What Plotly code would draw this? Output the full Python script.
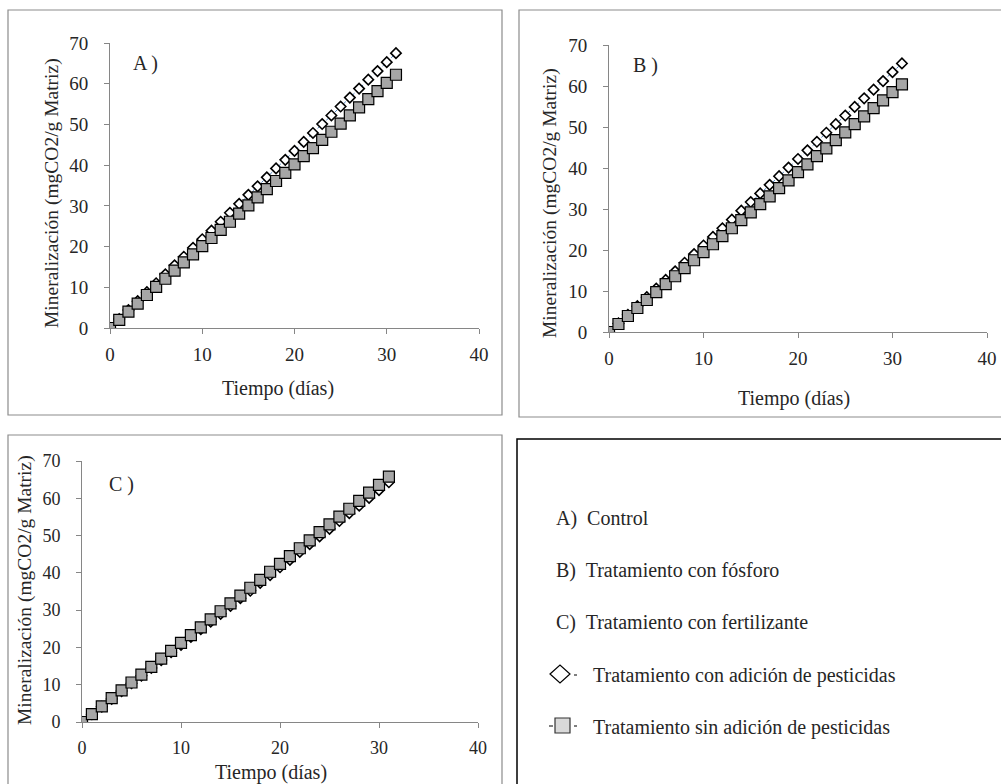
import plotly.graph_objects as go

W, H = 1001, 784

dias = list(range(32))

# Panel A (Control)
a_con = [0, 2.2, 4.4, 6.6, 8.8, 11.0, 13.2, 15.4, 17.5, 19.7, 21.8, 23.9, 26.1, 28.3, 30.5, 32.7,
         34.8, 37.0, 39.2, 41.3, 43.5, 45.7, 47.9, 50.1, 52.2, 54.4, 56.6, 58.8, 61.0, 63.1, 65.3, 67.5]
a_sin = [0, 2.0, 4.0, 6.0, 8.1, 10.1, 12.1, 14.1, 16.1, 18.1, 20.1, 22.1, 24.1, 26.1, 28.1, 30.1,
         32.1, 34.1, 36.1, 38.1, 40.2, 42.2, 44.2, 46.2, 48.2, 50.2, 52.2, 54.2, 56.2, 58.2, 60.2, 62.2]
# Panel B (fósforo)
b_con = [0, 2.1, 4.2, 6.3, 8.5, 10.6, 12.7, 14.8, 16.9, 19.0, 21.1, 23.2, 25.3, 27.4, 29.6, 31.7,
         33.8, 35.9, 38.0, 40.1, 42.2, 44.3, 46.4, 48.6, 50.7, 52.8, 54.9, 57.0, 59.1, 61.2, 63.4, 65.5]
b_sin = [0, 1.95, 3.9, 5.85, 7.8, 9.75, 11.7, 13.6, 15.6, 17.5, 19.5, 21.4, 23.4, 25.3, 27.3, 29.2,
         31.2, 33.1, 35.1, 37.0, 39.0, 40.9, 42.9, 44.8, 46.8, 48.7, 50.7, 52.6, 54.6, 56.5, 58.5, 60.4]
# Panel C (fertilizante)
c_con = [0, 2.07, 4.1, 6.2, 8.3, 10.4, 12.4, 14.5, 16.6, 18.7, 20.7, 22.8, 24.9, 26.9, 29.0, 31.1,
         33.2, 35.2, 37.3, 39.4, 41.5, 43.5, 45.6, 47.7, 49.8, 51.8, 53.9, 56.0, 58.0, 60.1, 62.2, 64.3]
c_sin = [0, 2.1, 4.2, 6.4, 8.5, 10.6, 12.7, 14.8, 17.0, 19.1, 21.2, 23.3, 25.4, 27.5, 29.7, 31.8,
         33.9, 36.0, 38.1, 40.3, 42.4, 44.5, 46.6, 48.7, 50.9, 53.0, 55.1, 57.2, 59.3, 61.5, 63.6, 65.8]

x_ticks = [0, 10, 20, 30, 40]
y_ticks = [0, 10, 20, 30, 40, 50, 60, 70]
panel_labels = ["A )", "B )", "C )"]
x_title = "Tiempo (días)"
y_title = "Mineralización (mgCO2/g Matriz)"
legend_items = ["A)  Control", "B)  Tratamiento con fósforo", "C)  Tratamiento con fertilizante"]
serie_con = "Tratamiento con adición de pesticidas"
serie_sin = "Tratamiento sin adición de pesticidas"

FONT = "Liberation Serif"
TXT = "#262626"
AX = "#868686"


def px(x):
    return x / W


def py(y):
    return 1 - y / H


fig = go.Figure()

panels = [
    (a_con, a_sin, "x", "y", (110, 479), (43, 328), 19, 8, 11),
    (b_con, b_sin, "x2", "y2", (609, 987), (45, 332), 19, 8, 11),
    (c_con, c_sin, "x3", "y3", (82, 478), (461, 722), 18, 8, 11),
]

layout_axes = {}
for i, (con, sin, xa, ya, xd, yd, fs, dsz, ssz) in enumerate(panels):
    fig.add_trace(go.Scatter(
        x=dias, y=con, xaxis=xa, yaxis=ya, mode="lines+markers", name=serie_con,
        line=dict(color="#4f81bd", width=1, dash="dot"),
        marker=dict(symbol="diamond", size=dsz, color="white", line=dict(color="black", width=1.6)),
        showlegend=False))
    fig.add_trace(go.Scatter(
        x=dias, y=sin, xaxis=xa, yaxis=ya, mode="lines+markers", name=serie_sin,
        line=dict(color="#a0302c", width=1),
        marker=dict(symbol="square", size=ssz, color="#a6a6a6", line=dict(color="black", width=1.2)),
        showlegend=False))
    suffix = "" if i == 0 else str(i + 1)
    layout_axes["xaxis" + suffix] = dict(
        domain=[px(xd[0]), px(xd[1])], range=[0, 40], tickvals=x_ticks,
        anchor=ya, showgrid=False, zeroline=False, showline=True, linecolor=AX, linewidth=1,
        ticks="outside", ticklen=5, tickcolor=AX, ticklabelstandoff=4, automargin=False,
        tickfont=dict(family=FONT, size=fs, color=TXT), fixedrange=True)
    layout_axes["yaxis" + suffix] = dict(
        domain=[py(yd[1]), py(yd[0])], range=[0, 70], tickvals=y_ticks,
        anchor=xa, showgrid=False, zeroline=False, showline=True, linecolor=AX, linewidth=1,
        ticks="outside", ticklen=5, tickcolor=AX, ticklabelstandoff=12, automargin=False,
        tickfont=dict(family=FONT, size=fs, color=TXT), fixedrange=True)

annotations = []


def ann(text, x, y, size=19, angle=0, xanchor="center", yanchor="middle"):
    annotations.append(dict(text=text, x=px(x), y=py(y), xref="paper", yref="paper",
                            showarrow=False, textangle=angle, xanchor=xanchor, yanchor=yanchor,
                            font=dict(family=FONT, size=size, color=TXT)))


# axis titles
ann(x_title, 278, 388, size=20)
ann(y_title, 52, 193, size=19.5, angle=-90)
ann(x_title, 794, 398, size=20)
ann(y_title, 550, 203, size=19.5, angle=-90)
ann(x_title, 271, 772, size=20)
ann(y_title, 25, 590, size=19.5, angle=-90)
# panel labels
ann(panel_labels[0], 131, 63, size=20, xanchor="left")
ann(panel_labels[1], 631, 65, size=20, xanchor="left")
ann(panel_labels[2], 107, 484, size=20, xanchor="left")
# legend box texts
ann(legend_items[0], 554, 518, size=20, xanchor="left")
ann(legend_items[1], 554, 570, size=20, xanchor="left")
ann(legend_items[2], 554, 622, size=20, xanchor="left")
ann(serie_con, 591, 675, size=20, xanchor="left")
ann(serie_sin, 591, 727, size=20, xanchor="left")

shapes = []


def rect(x0, y0, x1, y1, color, width=1, fill=None):
    shapes.append(dict(type="rect", xref="paper", yref="paper",
                       x0=px(x0), x1=px(x1), y0=py(y1), y1=py(y0),
                       line=dict(color=color, width=width),
                       fillcolor=fill if fill else "rgba(0,0,0,0)"))


def seg(x0, y0, x1, y1, color="black", width=1):
    shapes.append(dict(type="line", xref="paper", yref="paper",
                       x0=px(x0), x1=px(x1), y0=py(y0), y1=py(y1),
                       line=dict(color=color, width=width)))


# chart frames
rect(8, 10, 502, 415, "#8c8c8c", 1.2)
rect(519, 10, 1020, 417, "#8c8c8c", 1.2)
rect(8, 435, 502, 800, "#8c8c8c", 1.2)
rect(517, 439, 1020, 800, "#000000", 1.5)

# legend glyphs
cx, cy = 560, 674
shapes.append(dict(type="path", xref="paper", yref="paper",
                   path="M {} {} L {} {} L {} {} L {} {} Z".format(
                       px(cx - 10), py(cy), px(cx), py(cy - 9), px(cx + 10), py(cy), px(cx), py(cy + 9)),
                   line=dict(color="black", width=1.2), fillcolor="white"))
seg(cx + 14, cy + 1, cx + 17, cy + 1)
rect(555, 718, 570, 733, "#333333", 1.2, fill="#d9d9d9")
seg(549, 726, 553, 726)
seg(574, 726, 577, 726)

fig.update_layout(
    width=W, height=H, margin=dict(l=0, r=0, t=0, b=0, pad=0, autoexpand=False),
    paper_bgcolor="white", plot_bgcolor="white",
    showlegend=False, annotations=annotations, shapes=shapes,
    **layout_axes)

fig.write_html(
    "out.html",
    config={"displayModeBar": False, "staticPlot": True},
    post_script="document.body.style.margin='0';document.body.style.overflow='hidden';"
                "document.documentElement.style.overflow='hidden';",
)
